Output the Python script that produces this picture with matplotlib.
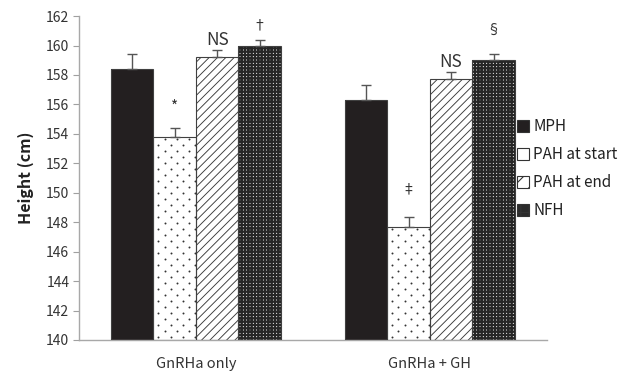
import numpy as np
import matplotlib.pyplot as plt
from matplotlib.patches import Patch

plt.rcParams['font.family'] = ['Noto Sans CJK KR', 'DejaVu Sans']
plt.rcParams['hatch.linewidth'] = 0.8

groups = ["GnRHa only", "GnRHa + GH"]
series = ["MPH", "PAH at start", "PAH at end", "NFH"]
heights = np.array([[158.4, 156.3],
                    [153.8, 147.7],
                    [159.2, 157.7],
                    [160.0, 159.0]])
errors = np.array([[1.0, 1.0],
                   [0.6, 0.65],
                   [0.48, 0.48],
                   [0.4, 0.44]])
marks = [["", ""], ["*", "‡"], ["NS", "NS"], ["†", "§"]]

faces = ["#231f20", "white", "white", "white"]
hatches = [None, None, "////", "+++++"]
hatch_cols = ["#231f20", "#333333", "#3a3a3a", "#262626"]
hatch_lw = [0.8, 0.8, 0.65, 1.6]
# vertical offset (points) of marks above the error bar top
mark_off = [[0, 0], [9, 15], [1, 1], [5, 12]]
mark_size = [[11, 11], [11, 10], [12.5, 12.5], [10, 10]]

fig = plt.figure(figsize=(6.27, 3.74), dpi=100)
ax = fig.add_axes([0.126, 0.091, 0.746, 0.866])

x = np.arange(len(groups))
w = 0.1816
for i in range(len(series)):
    xs = x + (i - 1.5) * w
    with plt.rc_context({'hatch.linewidth': hatch_lw[i]}):
        ax.bar(xs, heights[i] - 140, w, bottom=140, color=faces[i],
               edgecolor=hatch_cols[i], hatch=hatches[i], linewidth=0, zorder=2)
    outl = ax.bar(xs, heights[i] - 140, w, bottom=140, fill=False,
                  edgecolor="#404040", linewidth=0.8, zorder=3)
    if i == 1:
        # sparse dot texture, clipped to each bar
        for j, p in enumerate(outl.patches):
            px, py = [], []
            yy = np.arange(140.2, heights[i][j], 6.0 / 14.73)
            for k, yv in enumerate(yy):
                shift = 0.5 if k % 2 else 0.0
                xx = xs[j] - w / 2 + (np.arange(4) + 0.4 + shift) * (12.3 / 234)
                px.extend(xx)
                py.extend([yv] * len(xx))
            sc = ax.scatter(px, py, s=2.0, color="#333333", linewidths=0, zorder=2.5)
            sc.set_clip_path(p)
    ax.errorbar(xs, heights[i], yerr=[np.zeros(2), errors[i]], fmt="none",
                ecolor="#555555", elinewidth=1.0, capsize=3.5, capthick=1.0, zorder=4)
    for j in range(len(groups)):
        if marks[i][j]:
            ax.annotate(marks[i][j], (xs[j], heights[i][j] + errors[i][j]),
                        xytext=(0, mark_off[i][j]), textcoords="offset points",
                        ha="center", va="bottom", fontsize=mark_size[i][j],
                        color="#333333")

ax.set_xlim(-0.5, 1.5)
ax.set_ylim(140, 162)
ax.set_yticks(np.arange(140, 163, 2))
ax.set_xticks(x)
ax.set_xticklabels(groups, fontsize=10.5, color="#333333")
ax.tick_params(axis="x", length=0, pad=12)
ax.tick_params(axis="y", length=4, color="#a0a0a0", labelsize=10, labelcolor="#333333", pad=3)
for s in ["top", "right"]:
    ax.spines[s].set_visible(False)
for s in ["left", "bottom"]:
    ax.spines[s].set_color("#a8a8a8")
    ax.spines[s].set_linewidth(1.0)
ax.set_ylabel("Height (cm)", fontsize=11.5, fontweight="bold", color="#222222", labelpad=9)

handles = [Patch(facecolor="#231f20", edgecolor="#333333", linewidth=0.8),
           Patch(facecolor="white", edgecolor="#333333", linewidth=0.8),
           Patch(facecolor="white", edgecolor="#333333", linewidth=0.8, hatch="//"),
           Patch(facecolor="#2b2b2b", edgecolor="#333333", linewidth=0.8, hatch="++")]
fig.legend(handles, series, loc="upper left", bbox_to_anchor=(0.815, 0.70),
           frameon=False, fontsize=11, handlelength=0.75, handleheight=0.75,
           handletextpad=0.3, labelspacing=0.72, borderaxespad=0, labelcolor="#222222")

fig.savefig("out.png", dpi=100)
